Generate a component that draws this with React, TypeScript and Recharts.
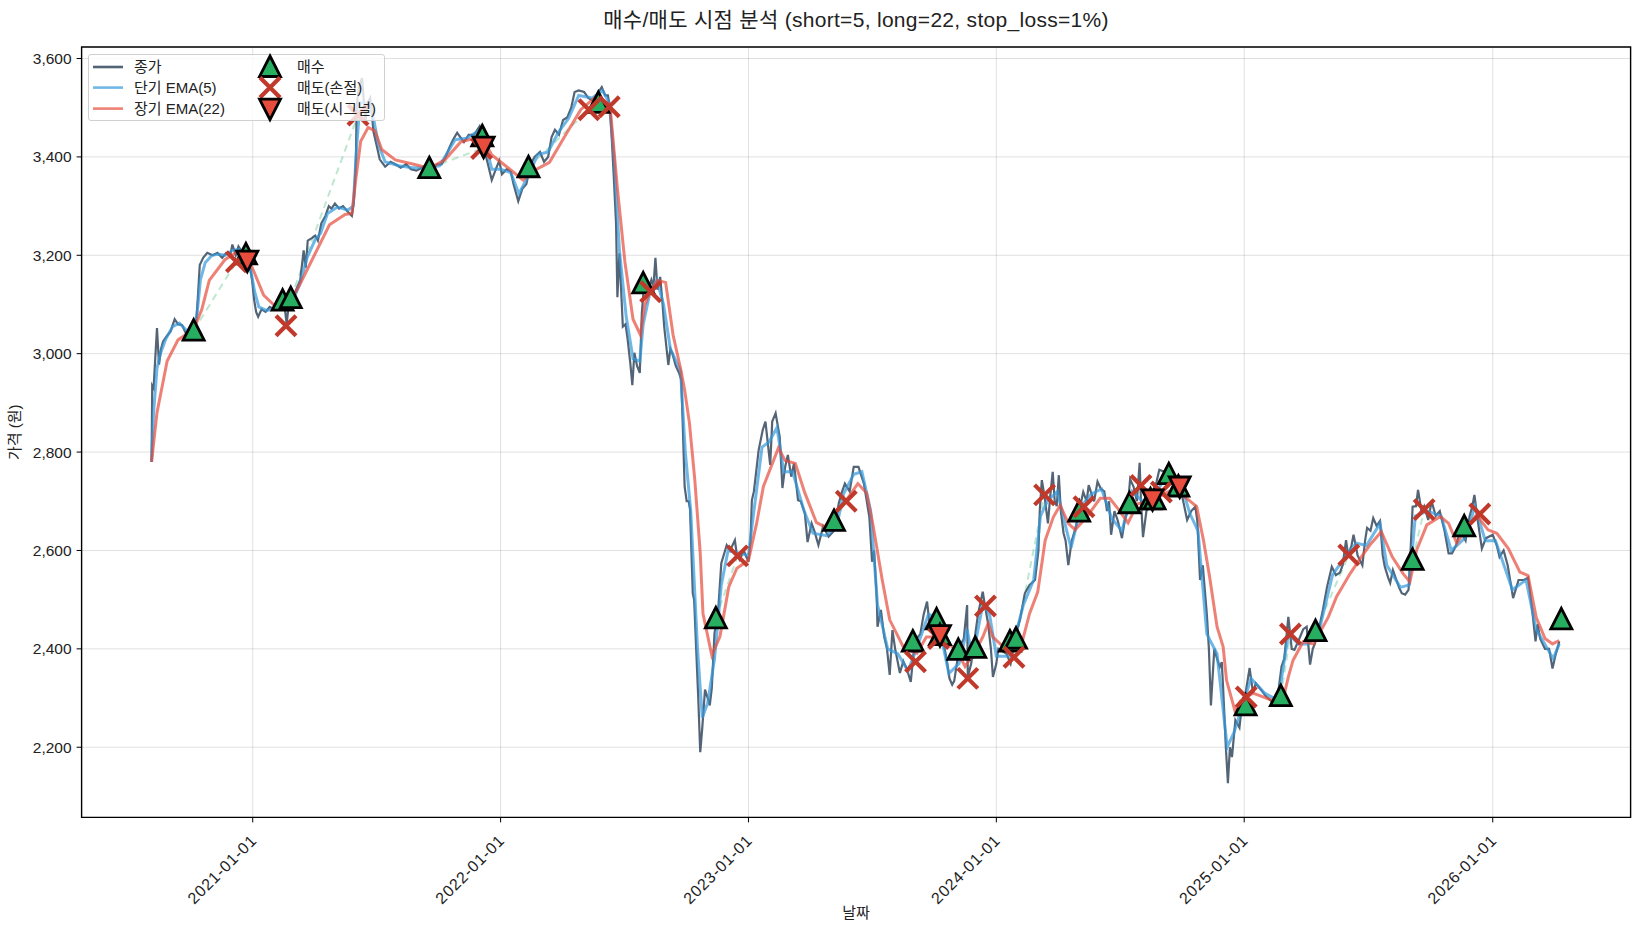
import React from "react";
import { ComposedChart, Line, Scatter, XAxis, YAxis, CartesianGrid, ReferenceArea } from "recharts";

const TITLE = "매수/매도 시점 분석 (short=5, long=22, stop_loss=1%)";
const FONT = "'Liberation Sans', 'Noto Sans CJK KR', sans-serif";

// days are counted from 2021-01-01
const xTickDays = [0, 365, 730, 1095, 1460, 1826];
const xTickLabels = ["2021-01-01", "2022-01-01", "2023-01-01", "2024-01-01", "2025-01-01", "2026-01-01"];
const yTicks = [2200, 2400, 2600, 2800, 3000, 3200, 3400, 3600];

const closePoints = [
[-149,2780],[-148,2935],[-146,2930],[-141,3052],[-138,2978],[-135,3010],[-132,3025],[-127,3035],[-121,3045],[-115,3070],[-110,3060],[-104,3058],[-98,3040],[-90,3045],[-84,3050],[-81,3110],[-78,3180],[-73,3195],[-67,3205],[-59,3200],[-52,3205],[-45,3195],[-39,3205],[-33,3200],[-30,3222],[-25,3200],[-21,3218],[-15,3205],[-8,3190],[-4,3175],[-1,3150],[2,3110],[5,3085],[8,3075],[13,3090],[19,3085],[25,3095],[32,3090],[39,3100],[47,3095],[50,3060],[53,3100],[58,3110],[64,3130],[70,3150],[75,3210],[78,3175],[81,3230],[87,3235],[92,3240],[96,3230],[101,3265],[107,3280],[112,3300],[116,3295],[121,3305],[127,3295],[133,3300],[139,3290],[146,3280],[149,3310],[152,3400],[153,3500],[156,3540],[161,3560],[166,3470],[169,3510],[173,3520],[178,3450],[183,3420],[187,3395],[195,3380],[203,3390],[210,3385],[218,3378],[226,3385],[233,3375],[241,3372],[252,3380],[263,3375],[272,3385],[278,3385],[284,3400],[290,3420],[295,3435],[301,3449],[311,3430],[318,3445],[326,3445],[334,3462],[340,3420],[346,3387],[352,3353],[358,3375],[363,3392],[367,3365],[374,3375],[380,3370],[384,3345],[391,3310],[397,3335],[403,3345],[409,3385],[415,3400],[423,3410],[429,3390],[435,3400],[440,3440],[445,3455],[451,3445],[457,3475],[463,3480],[469,3500],[474,3532],[480,3535],[488,3532],[494,3520],[500,3515],[506,3525],[514,3542],[519,3525],[523,3525],[526,3500],[529,3430],[532,3350],[535,3266],[537,3115],[540,3204],[545,3055],[549,3060],[552,3030],[556,2981],[559,2936],[562,3002],[566,2975],[570,2961],[573,3083],[576,3135],[580,3120],[587,3150],[590,3135],[593,3195],[596,3130],[600,3156],[603,3110],[606,3054],[612,2977],[615,3010],[618,3000],[623,2975],[628,2960],[631,2947],[633,2866],[636,2730],[639,2700],[642,2700],[644,2683],[648,2513],[650,2500],[653,2400],[656,2302],[659,2190],[662,2240],[666,2317],[670,2300],[673,2285],[676,2320],[680,2432],[685,2470],[690,2574],[698,2611],[703,2600],[710,2621],[713,2590],[717,2581],[723,2600],[730,2577],[733,2620],[735,2702],[738,2720],[745,2804],[751,2845],[755,2862],[762,2774],[765,2862],[770,2879],[776,2831],[780,2727],[784,2770],[788,2794],[793,2750],[797,2777],[803,2702],[807,2700],[813,2676],[817,2617],[823,2655],[827,2640],[833,2611],[840,2649],[848,2628],[856,2640],[863,2696],[868,2720],[872,2736],[879,2720],[885,2770],[892,2770],[900,2736],[908,2668],[912,2577],[915,2600],[919,2500],[920,2445],[925,2479],[930,2424],[934,2400],[938,2347],[942,2438],[946,2400],[953,2351],[958,2375],[963,2360],[969,2333],[973,2390],[977,2420],[983,2430],[988,2470],[993,2496],[997,2445],[1003,2470],[1007,2480],[1015,2430],[1022,2377],[1026,2340],[1030,2327],[1033,2335],[1038,2380],[1043,2410],[1047,2420],[1052,2489],[1053,2343],[1058,2370],[1063,2420],[1068,2470],[1075,2516],[1078,2490],[1083,2450],[1087,2400],[1090,2343],[1095,2370],[1098,2400],[1104,2395],[1110,2390],[1116,2370],[1124,2430],[1130,2460],[1137,2513],[1144,2530],[1152,2540],[1157,2600],[1159,2682],[1162,2743],[1166,2710],[1171,2655],[1175,2720],[1178,2760],[1181,2700],[1184,2690],[1187,2753],[1190,2680],[1194,2635],[1197,2620],[1201,2570],[1206,2620],[1211,2642],[1217,2680],[1223,2719],[1228,2700],[1231,2733],[1234,2720],[1239,2700],[1244,2740],[1249,2725],[1254,2720],[1258,2680],[1261,2700],[1264,2632],[1269,2680],[1274,2660],[1280,2625],[1284,2660],[1288,2680],[1292,2745],[1297,2730],[1302,2700],[1306,2778],[1308,2700],[1311,2627],[1316,2680],[1320,2690],[1325,2710],[1331,2740],[1335,2764],[1342,2760],[1348,2770],[1354,2740],[1360,2745],[1366,2735],[1369,2708],[1376,2662],[1382,2680],[1388,2689],[1391,2660],[1395,2540],[1399,2570],[1402,2520],[1405,2470],[1408,2400],[1411,2285],[1416,2400],[1420,2380],[1424,2363],[1427,2373],[1429,2320],[1433,2200],[1436,2127],[1439,2200],[1442,2180],[1447,2255],[1453,2240],[1457,2290],[1462,2310],[1468,2361],[1473,2310],[1477,2330],[1483,2320],[1493,2302],[1499,2295],[1505,2285],[1509,2300],[1515,2364],[1519,2380],[1525,2465],[1530,2400],[1534,2398],[1541,2420],[1547,2440],[1552,2445],[1557,2368],[1561,2400],[1564,2410],[1570,2440],[1576,2480],[1582,2526],[1589,2567],[1595,2550],[1601,2555],[1605,2570],[1610,2621],[1613,2590],[1618,2610],[1621,2632],[1627,2590],[1634,2570],[1638,2620],[1641,2646],[1646,2640],[1650,2666],[1655,2650],[1660,2660],[1664,2590],[1667,2567],[1672,2545],[1675,2534],[1679,2560],[1684,2540],[1688,2525],[1692,2513],[1697,2510],[1702,2520],[1705,2600],[1708,2689],[1713,2690],[1716,2723],[1721,2680],[1725,2690],[1731,2662],[1736,2700],[1742,2670],[1748,2680],[1755,2640],[1761,2594],[1766,2594],[1772,2610],[1778,2640],[1786,2620],[1792,2670],[1796,2690],[1799,2713],[1804,2660],[1810,2604],[1816,2625],[1826,2632],[1832,2610],[1836,2587],[1842,2600],[1848,2570],[1856,2503],[1864,2540],[1872,2540],[1878,2545],[1884,2480],[1889,2415],[1892,2450],[1896,2420],[1903,2400],[1909,2400],[1914,2360],[1918,2385],[1924,2415]
];

const emaShortPoints = [
[-149,2780],[-146,2880],[-141,2970],[-136,3000],[-128,3030],[-118,3055],[-108,3062],[-98,3048],[-88,3045],[-82,3080],[-77,3150],[-70,3185],[-60,3200],[-50,3202],[-40,3200],[-30,3210],[-20,3212],[-10,3195],[-3,3170],[3,3125],[9,3095],[20,3088],[35,3092],[50,3092],[60,3110],[70,3145],[80,3195],[92,3232],[100,3245],[110,3285],[125,3298],[140,3292],[148,3300],[153,3420],[158,3510],[166,3510],[175,3500],[185,3425],[195,3390],[215,3382],[235,3378],[255,3378],[275,3382],[285,3405],[298,3435],[315,3438],[335,3455],[342,3430],[352,3375],[365,3375],[380,3368],[392,3325],[405,3360],[420,3405],[435,3410],[450,3450],[465,3478],[480,3525],[500,3520],[515,3535],[525,3510],[532,3400],[540,3210],[550,3075],[560,2990],[570,2985],[575,3060],[585,3125],[595,3150],[605,3100],[615,3010],[630,2965],[637,2800],[645,2680],[655,2400],[662,2260],[670,2290],[680,2380],[690,2530],[700,2600],[715,2595],[730,2590],[738,2680],[750,2810],[760,2820],[772,2850],[782,2760],[795,2760],[812,2680],[825,2635],[845,2630],[860,2650],[870,2715],[885,2755],[897,2760],[910,2680],[920,2490],[935,2400],[950,2390],[965,2355],[980,2410],[995,2470],[1008,2465],[1025,2350],[1040,2370],[1052,2440],[1060,2380],[1075,2490],[1085,2470],[1095,2385],[1115,2385],[1135,2490],[1150,2540],[1160,2670],[1170,2700],[1185,2720],[1195,2660],[1205,2605],[1220,2690],[1235,2715],[1250,2725],[1265,2665],[1280,2640],[1295,2720],[1310,2700],[1325,2700],[1345,2755],[1365,2745],[1380,2675],[1392,2640],[1405,2430],[1420,2390],[1435,2200],[1445,2230],[1460,2295],[1470,2340],[1490,2310],[1510,2295],[1525,2430],[1540,2410],[1555,2410],[1570,2435],[1590,2550],[1610,2590],[1625,2615],[1640,2610],[1660,2655],[1670,2570],[1690,2525],[1703,2530],[1712,2670],[1730,2680],[1750,2670],[1765,2600],[1785,2625],[1800,2690],[1815,2620],[1830,2620],[1855,2520],[1875,2540],[1890,2440],[1915,2380],[1924,2410]
];

const emaLongPoints = [
[-149,2780],[-141,2880],[-126,2985],[-110,3028],[-87,3049],[-75,3090],[-64,3149],[-41,3191],[-24,3206],[-8,3198],[2,3166],[16,3119],[32,3098],[52,3102],[67,3134],[90,3198],[113,3262],[136,3283],[146,3285],[152,3357],[159,3432],[170,3460],[180,3453],[190,3415],[210,3394],[237,3385],[260,3377],[283,3394],[306,3430],[337,3442],[352,3404],[375,3379],[398,3353],[414,3372],[437,3389],[460,3443],[483,3496],[506,3523],[526,3506],[537,3336],[548,3187],[560,3070],[571,3038],[577,3098],[586,3128],[596,3149],[608,3145],[619,3038],[630,2970],[636,2926],[643,2860],[651,2743],[659,2594],[663,2472],[676,2387],[688,2425],[701,2526],[713,2564],[730,2580],[742,2655],[752,2730],[774,2808],[784,2783],[799,2777],[813,2717],[830,2657],[842,2648],[874,2702],[891,2736],[904,2717],[913,2655],[927,2540],[938,2459],[958,2404],[978,2391],[992,2424],[1012,2424],[1036,2398],[1049,2364],[1066,2400],[1075,2424],[1083,2452],[1090,2424],[1110,2398],[1130,2398],[1144,2472],[1156,2516],[1167,2621],[1179,2668],[1189,2692],[1201,2655],[1211,2642],[1228,2668],[1248,2706],[1262,2706],[1274,2685],[1289,2656],[1303,2695],[1323,2700],[1349,2720],[1369,2713],[1390,2689],[1400,2621],[1409,2547],[1420,2445],[1429,2404],[1434,2336],[1446,2276],[1455,2295],[1473,2310],[1500,2296],[1516,2290],[1525,2343],[1532,2377],[1547,2415],[1562,2410],[1584,2465],[1596,2506],[1616,2553],[1631,2584],[1645,2611],[1662,2638],[1678,2587],[1694,2553],[1704,2536],[1714,2601],[1729,2652],[1749,2669],[1761,2655],[1773,2615],[1785,2640],[1802,2672],[1819,2642],[1832,2635],[1849,2604],[1866,2556],[1878,2549],[1890,2464],[1903,2421],[1914,2410],[1924,2417]
];

const buyPoints = [
[-87,3047],[-10,3202],[44,3108],[56,3113],[260,3377],[338,3442],[406,3379],[509,3510],[575,3143],[682,2462],[856,2660],[972,2415],[1007,2460],[1012,2428],[1039,2398],[1064,2402],[1115,2415],[1124,2421],[1217,2679],[1291,2696],[1322,2704],[1328,2704],[1349,2755],[1363,2730],[1462,2285],[1514,2304],[1565,2436],[1708,2581],[1784,2649],[1927,2460]
];
const stopLossPoints = [
[-24,3187],[49,3057],[155,3485],[337,3417],[495,3496],[525,3502],[586,3126],[714,2589],[874,2700],[976,2374],[1010,2421],[1053,2340],[1079,2487],[1121,2383],[1166,2713],[1224,2689],[1308,2732],[1338,2719],[1463,2302],[1528,2430],[1614,2591],[1725,2683],[1807,2674]
];
const signalSellPoints = [[-8,3189],[340,3421],[1012,2428],[1325,2704],[1365,2730]];

// buy -> sell pairs of the winning trades (dashed guide lines)
const winningTrades = [
[[-87,3047],[-24,3187]],[[56,3113],[155,3485]],[[260,3377],[337,3417]],[[406,3379],[495,3496]],
[[682,2462],[714,2589]],[[856,2660],[874,2700]],[[1124,2421],[1166,2713]],[[1217,2679],[1224,2689]],
[[1514,2304],[1528,2430]],[[1565,2436],[1614,2591]],[[1708,2581],[1725,2683]]
];

const toRows = (pts: number[][]) => pts.map(([x, y]) => ({ x, y }));

const GREEN = "#27ae60";
const RED_X = "#c0392b";
const RED_TRI = "#e74c3c";

const UpTri = ({ cx, cy }: any) => (
  <path d={`M${cx},${cy - 11} L${cx + 10.5},${cy + 9.5} L${cx - 10.5},${cy + 9.5} Z`} fill={GREEN} stroke="#000" strokeWidth={2.8} strokeLinejoin="miter" />
);
const DownTri = ({ cx, cy }: any) => (
  <path d={`M${cx},${cy + 11} L${cx + 10.5},${cy - 9.5} L${cx - 10.5},${cy - 9.5} Z`} fill={RED_TRI} stroke="#000" strokeWidth={2.8} strokeLinejoin="miter" />
);
const Cross = ({ cx, cy }: any) => (
  <path d={`M${cx - 10},${cy - 10} L${cx + 10},${cy + 10} M${cx + 10},${cy - 10} L${cx - 10},${cy + 10}`} stroke={RED_X} strokeWidth={4.2} fill="none" />
);

const legendLines = [
  { label: "종가", color: "#34495e", opacity: 0.85 },
  { label: "단기 EMA(5)", color: "#3498db", opacity: 0.7 },
  { label: "장기 EMA(22)", color: "#e74c3c", opacity: 0.7 },
];
const legendMarks = [
  { label: "매수", Shape: UpTri },
  { label: "매도(손절)", Shape: Cross },
  { label: "매도(시그널)", Shape: DownTri },
];
const rowY = [13, 33.6, 54.6];

function ChartLegend() {
  return (
    <div style={{ position: "absolute", left: 88, top: 54, width: 297, height: 67, boxSizing: "border-box", background: "rgba(255,255,255,0.8)", border: "1px solid #d0d0d0", borderRadius: 3 }}>
      <svg width={297} height={67} style={{ position: "absolute", left: -1, top: -1, overflow: "visible" }}>
        {legendLines.map((l, i) => (
          <line key={l.label} x1={5} x2={35} y1={rowY[i]} y2={rowY[i]} stroke={l.color} strokeOpacity={l.opacity} strokeWidth={2.6} />
        ))}
        {legendMarks.map((m, i) => (
          <m.Shape key={m.label} cx={182} cy={rowY[i]} />
        ))}
        {legendLines.map((l, i) => (
          <text key={l.label} x={46} y={rowY[i] + 5} fontFamily={FONT} fontSize={15} fill="#222">{l.label}</text>
        ))}
        {legendMarks.map((m, i) => (
          <text key={m.label} x={209} y={rowY[i] + 5} fontFamily={FONT} fontSize={15} fill="#222">{m.label}</text>
        ))}
      </svg>
    </div>
  );
}

const formatY = (v: number) => v.toLocaleString("en-US");
const formatX = (v: number) => xTickLabels[xTickDays.indexOf(v)];

export default function App() {
  return (
    <div style={{ position: "absolute", left: 0, top: 0, width: 1641, height: 930, background: "#fff", fontFamily: FONT }}>
      <div style={{ position: "absolute", left: 81, width: 1550, top: 7, textAlign: "center", fontSize: 21, letterSpacing: 0.3, lineHeight: "26px", color: "#222" }}>{TITLE}</div>
      <ComposedChart width={1641} height={930} margin={{ top: 47, right: 10.4, bottom: 0, left: 0 }}>
        <CartesianGrid stroke="#000" strokeOpacity={0.12} strokeWidth={1} />
        <XAxis
          dataKey="x" type="number" domain={[-252, 2029]} allowDataOverflow ticks={xTickDays} tickFormatter={formatX}
          height={112.6} interval={0} angle={-45} textAnchor="end" tickSize={5} tickMargin={11}
          tick={{ fontSize: 16, fill: "#222", fontFamily: FONT, letterSpacing: 0.8, dx: -3 }} axisLine={false} tickLine={{ stroke: "#000" }}
          label={{ value: "날짜", position: "insideBottom", offset: 12, fontSize: 15, fill: "#222", fontFamily: FONT }}
        />
        <YAxis
          dataKey="y" type="number" domain={[2057.4, 3623.4]} allowDataOverflow ticks={yTicks} tickFormatter={formatY}
          width={81.6} tickSize={5} tickMargin={5} interval={0}
          tick={{ fontSize: 15.5, fill: "#222", fontFamily: FONT }} axisLine={false} tickLine={{ stroke: "#000" }}
          label={{ value: "가격 (원)", angle: -90, position: "insideLeft", offset: 15, fontSize: 15, fill: "#222", fontFamily: FONT, style: { textAnchor: "middle" } }}
        />
        {winningTrades.map((t, i) => (
          <Line key={i} data={toRows(t)} dataKey="y" stroke={GREEN} strokeOpacity={0.3} strokeWidth={2} strokeDasharray="7 5" dot={false} activeDot={false} legendType="none" isAnimationActive={false} />
        ))}
        <Line data={toRows(closePoints)} dataKey="y" stroke="#34495e" strokeOpacity={0.85} strokeWidth={2.2} dot={false} activeDot={false} isAnimationActive={false} />
        <Line data={toRows(emaShortPoints)} dataKey="y" stroke="#3498db" strokeOpacity={0.7} strokeWidth={3} dot={false} activeDot={false} isAnimationActive={false} />
        <Line data={toRows(emaLongPoints)} dataKey="y" stroke="#e74c3c" strokeOpacity={0.7} strokeWidth={3} dot={false} activeDot={false} isAnimationActive={false} />
        <Scatter data={toRows(buyPoints)} dataKey="y" shape={(p: any) => <UpTri cx={p.cx} cy={p.cy} />} isAnimationActive={false} />
        <Scatter data={toRows(stopLossPoints)} dataKey="y" shape={(p: any) => <Cross cx={p.cx} cy={p.cy} />} isAnimationActive={false} />
        <Scatter data={toRows(signalSellPoints)} dataKey="y" shape={(p: any) => <DownTri cx={p.cx} cy={p.cy} />} isAnimationActive={false} />
        <ReferenceArea x1={-252} x2={2029} y1={2057.4} y2={3623.4} fill="none" stroke="#000" strokeWidth={1.4} ifOverflow="visible" />
      </ComposedChart>
      <ChartLegend />
    </div>
  );
}
